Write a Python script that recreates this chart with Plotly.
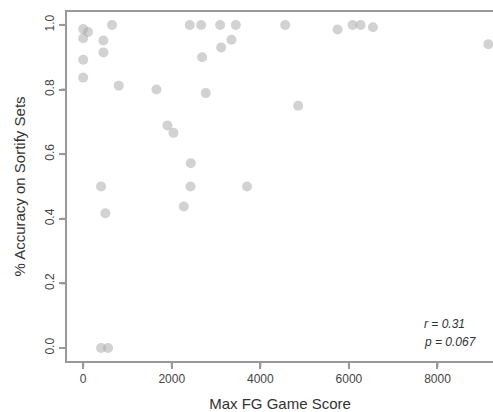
import plotly.graph_objects as go

max_fg_score = [0, 108, 0, 0, 0, 456, 456, 651, 802, 1654, 1902, 2038, 2407, 2663,
                2685, 2768, 3092, 3446, 3115, 3349, 2429, 2422, 403, 2271, 3700,
                501, 403, 561, 4561, 5744, 6083, 6264, 6542, 9148, 4854]
accuracy = [0.987, 0.978, 0.959, 0.892, 0.837, 0.952, 0.915, 1.0, 0.812, 0.80,
            0.689, 0.666, 1.0, 1.0, 0.900, 0.789, 1.0, 1.0, 0.930, 0.954, 0.572,
            0.500, 0.500, 0.438, 0.500, 0.417, 0.0, 0.0, 1.0, 0.986, 1.0, 1.0,
            0.993, 0.940, 0.750]
x_ticks = [0, 2000, 4000, 6000, 8000]
y_ticks = [0.0, 0.2, 0.4, 0.6, 0.8, 1.0]
y_tick_labels = ["0.0", "0.2", "0.4", "0.6", "0.8", "1.0"]
stat_lines = ["r = 0.31", "p = 0.067"]

x_range = [-366, 9254]
y_range = [-0.0402, 1.040]

fig = go.Figure()
fig.add_trace(go.Scatter(
    x=max_fg_score, y=accuracy, mode="markers",
    marker=dict(size=10, color="rgba(165,165,165,0.5)", line=dict(width=0)),
    hoverinfo="x+y", showlegend=False,
))

font_family = "Liberation Sans, Arial, Helvetica, sans-serif"
for i, txt in enumerate(stat_lines):
    fig.add_annotation(
        x=7650, y=[0.074, 0.0195][i], xref="x", yref="y",
        text="<i>%s</i>" % txt, showarrow=False, xanchor="left", yanchor="middle",
        font=dict(family=font_family, size=12, color="#333333"),
    )

line_col = "#999999"

# tick marks drawn as decoration shapes at the axis tick positions
for v in x_ticks:
    px = (v - x_range[0]) / (x_range[1] - x_range[0])
    fig.add_shape(type="line", xref="paper", yref="paper", x0=px, x1=px,
                  y0=0, y1=-0.0172, line=dict(color=line_col, width=2), layer="above")
for v in y_ticks:
    py = (v - y_range[0]) / (y_range[1] - y_range[0])
    fig.add_shape(type="line", xref="paper", yref="paper", x0=0, x1=-0.0141,
                  y0=py, y1=py, line=dict(color=line_col, width=2), layer="above")

fig.update_layout(
    width=493, height=412,
    margin=dict(l=67, r=0, t=12, b=51),
    paper_bgcolor="white", plot_bgcolor="white",
    font=dict(family=font_family, color="#333333"),
    xaxis=dict(
        range=x_range, tickvals=x_ticks, ticktext=[str(v) for v in x_ticks],
        showline=True, linecolor=line_col, linewidth=2, mirror=True,
        ticks="outside", ticklen=6, tickcolor=line_col, tickwidth=2,
        showgrid=False, zeroline=False,
        tickfont=dict(size=12, color="#444444"),
        title=dict(text="Max FG Game Score", font=dict(size=15, color="#333333"), standoff=14),
    ),
    yaxis=dict(
        range=y_range, tickvals=y_ticks, ticktext=y_tick_labels,
        showline=True, linecolor=line_col, linewidth=2,
        ticks="outside", ticklen=6, tickcolor=line_col, tickwidth=2,
        tickangle=-90, showgrid=False, zeroline=False,
        tickfont=dict(size=12, color="#444444"),
        title=dict(text="% Accuracy on Sortify Sets", font=dict(size=15, color="#333333"), standoff=14),
    ),
)

fig.write_html("out.html")
